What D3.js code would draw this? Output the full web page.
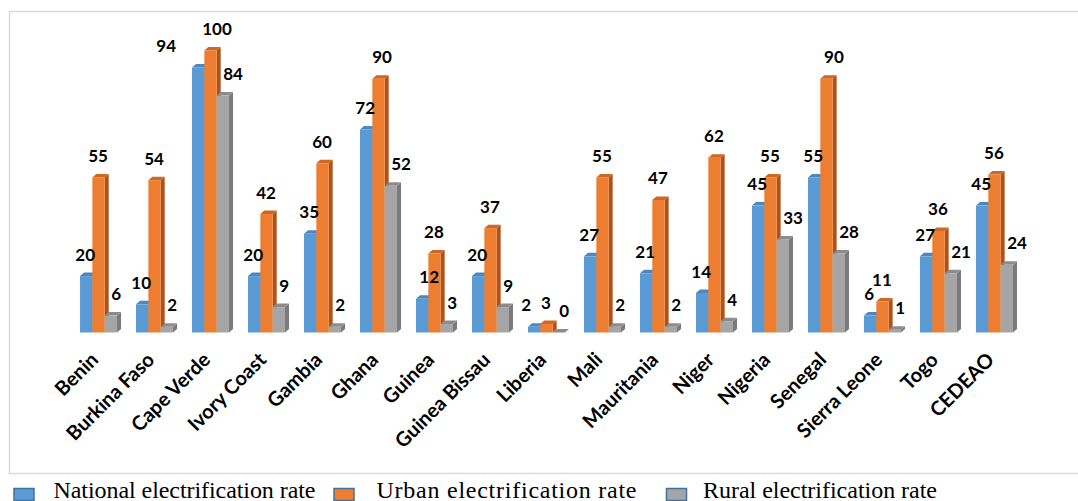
<!DOCTYPE html>
<html>
<head>
<meta charset="utf-8">
<script src="https://cdn.jsdelivr.net/npm/d3@7"></script>
<style>
  html, body { margin: 0; padding: 0; background: #fff; }
  svg { display: block; }
</style>
</head>
<body>
<svg id="chart" width="1078" height="501"></svg>
<script>
// Electrification rates (%) by ECOWAS country
const countries = ["Benin", "Burkina Faso", "Cape Verde", "Ivory Coast", "Gambia", "Ghana",
  "Guinea", "Guinea Bissau", "Liberia", "Mali", "Mauritania", "Niger", "Nigeria",
  "Senegal", "Sierra Leone", "Togo", "CEDEAO"];
const nationalRate = [20, 10, 94, 20, 35, 72, 12, 20, 2, 27, 21, 14, 45, 55, 6, 27, 45];
const urbanRate    = [55, 54, 100, 42, 60, 90, 28, 37, 3, 55, 47, 62, 55, 90, 11, 36, 56];
const ruralRate    = [6, 2, 84, 9, 2, 52, 3, 9, 0, 2, 2, 4, 33, 28, 1, 21, 24];
const seriesNames  = ["National electrification rate", "Urban electrification rate", "Rural electrification rate"];

const seriesValues = [nationalRate, urbanRate, ruralRate];

// face colours per series: front, top, side
const palette = [
  { front: "#5b9bd5", top: "#4a88c4", side: "#3f74a8" },
  { front: "#ed7d31", top: "#cf6622", side: "#ad531a" },
  { front: "#a5a5a5", top: "#8c8c8c", side: "#7a7a7a" }
];

// horizontal nudges for a few crowded labels
const labelNudge = [
  { "Cape Verde": -31, "Guinea": 8, "Liberia": -7 },
  { "Cape Verde": 7, "Ghana": 4, "Senegal": 8 },
  {}
];

const svg = d3.select("#chart");
const depthX = 4, depthY = 3.5;

// outer frame
svg.append("rect")
  .attr("x", 9.5).attr("y", 11.5)
  .attr("width", 1080).attr("height", 462)
  .attr("fill", "none").attr("stroke", "#d9d9d9").attr("stroke-width", 1.5);

const x = d3.scaleBand()
  .domain(countries)
  .range([70.5, 1022.5])
  .paddingInner(0.339)
  .paddingOuter(0.17);

const xSub = d3.scaleBand()
  .domain(d3.range(3))
  .range([0, x.bandwidth()]);

const y = d3.scaleLinear().domain([0, 100]).range([332.5, 50.5]);

const rows = countries.map((c, i) => ({ country: c, values: seriesValues.map(s => s[i]) }));

const groups = svg.append("g").selectAll("g.grp")
  .data(rows).join("g")
  .attr("class", "grp")
  .attr("transform", d => `translate(${x(d.country)},0)`);

// prism bars drawn left to right so later bars cover earlier side faces
groups.each(function(d) {
  const g = d3.select(this);
  d.values.forEach((v, s) => {
    const x0 = xSub(s), x1 = x0 + xSub.bandwidth();
    const yt = y(v), yb = y(0);
    const col = palette[s];
    g.append("path")
      .attr("d", `M${x1},${yt}L${x1 + depthX},${yt - depthY}L${x1 + depthX},${yb - depthY}L${x1},${yb}Z`)
      .attr("fill", col.side);
    g.append("path")
      .attr("d", `M${x0},${yt}L${x0 + depthX},${yt - depthY}L${x1 + depthX},${yt - depthY}L${x1},${yt}Z`)
      .attr("fill", col.top);
    g.append("rect")
      .attr("x", x0).attr("y", yt)
      .attr("width", x1 - x0).attr("height", yb - yt)
      .attr("fill", col.front);
  });
});

// value labels
const labelFont = "Lato, 'Open Sans', sans-serif";
groups.each(function(d) {
  const g = d3.select(this);
  d.values.forEach((v, s) => {
    const x0 = xSub(s), bw = xSub.bandwidth();
    const nudge = labelNudge[s][d.country] || 0;
    let tx, anchor;
    if (s === 0) { tx = x0 + bw / 2 - 1; anchor = "middle"; }
    else if (s === 1) { tx = x0 + bw / 2 - 0.5; anchor = "middle"; }
    else { tx = x0 + 6.5; anchor = "start"; }
    g.append("text")
      .attr("x", tx + nudge)
      .attr("y", y(v) - 15.5)
      .attr("text-anchor", anchor)
      .attr("font-family", labelFont)
      .attr("font-weight", 700)
      .attr("font-size", 17)
      .attr("fill", "#000")
      .text(v);
  });
});

// category labels, rotated
svg.append("g").selectAll("text")
  .data(countries).join("text")
  .attr("transform", d => `translate(${x(d) + x.bandwidth() / 2 + 1},${361}) rotate(-45)`)
  .attr("text-anchor", "end")
  .attr("font-family", labelFont)
  .attr("font-weight", 700)
  .attr("font-size", 20)
  .attr("fill", "#000")
  .text(d => d);

// legend
const legendX = [13.5, 333.5, 666];
const legendTextX = [40, 43, 37];
const legendTextWidth = [262, 260, 234];
const legend = svg.append("g").selectAll("g")
  .data(seriesNames).join("g")
  .attr("transform", (d, i) => `translate(${legendX[i]},0)`);
legend.append("rect")
  .attr("x", 0.5).attr("y", 488.5)
  .attr("width", 20).attr("height", 12)
  .attr("fill", (d, i) => palette[i].front)
  .attr("stroke", "#41719c").attr("stroke-width", 1.5);
legend.append("text")
  .attr("x", (d, i) => legendTextX[i])
  .attr("y", 497.5)
  .attr("font-family", "'Liberation Serif', 'Times New Roman', serif")
  .attr("font-size", 24)
  .attr("textLength", (d, i) => legendTextWidth[i])
  .attr("lengthAdjust", "spacing")
  .attr("fill", "#000")
  .text(d => d);
</script>
</body>
</html>
